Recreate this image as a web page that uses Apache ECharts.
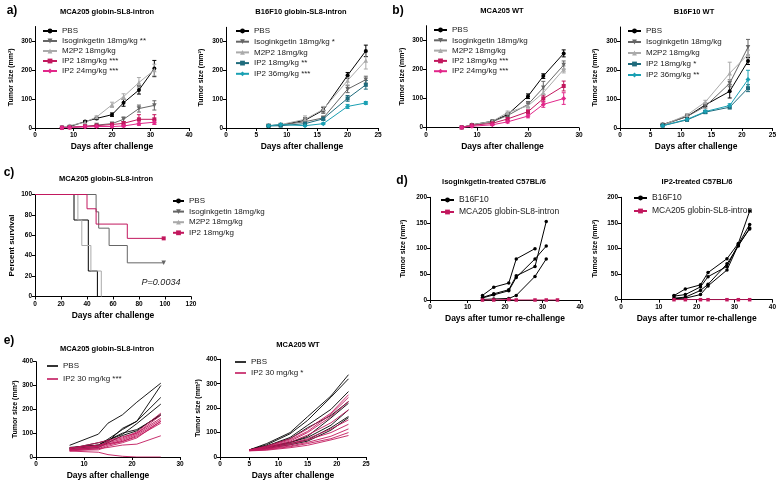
<!DOCTYPE html>
<html>
<head>
<meta charset="utf-8">
<script src="https://cdn.jsdelivr.net/npm/echarts@6/dist/echarts.min.js"></script>
<style>
  html, body { margin: 0; padding: 0; background: #fff; }
  #main { width: 779px; height: 481px; }
</style>
</head>
<body>
<div id="main"></div>
<script>
// a) MCA205 globin-SL8-intron
var a1Days = [7, 9, 13, 16, 20, 23, 27, 31];
var a1Pbs = [2, 5, 22, 33, 46, 87, 131, 205];
var a1PbsErr = [1, 2, 3, 4, 6, 12, 14, 28];
var a1Iso = [1, 3, 5, 10, 15, 30, 67, 78];
var a1IsoErr = [1, 1, 2, 3, 4, 8, 12, 16];
var a1M2p2 = [2, 8, 20, 38, 80, 108, 157, 200];
var a1M2p2Err = [1, 2, 3, 4, 9, 10, 17, 20];
var a1Ip18 = [1, 2, 6, 8, 12, 16, 30, 30];
var a1Ip18Err = [1, 1, 2, 3, 4, 6, 16, 16];
var a1Ip24 = [1, 2, 4, 5, 5, 7, 15, 20];
var a1Ip24Err = [1, 1, 1, 2, 2, 3, 6, 8];

// a) B16F10 globin-SL8-intron
var a2Days = [7, 9, 13, 16, 20, 23];
var a2Pbs = [8, 10, 27, 62, 183, 268];
var a2PbsErr = [2, 3, 8, 10, 10, 20];
var a2Iso = [8, 10, 22, 35, 135, 168];
var a2IsoErr = [2, 2, 5, 6, 12, 12];
var a2M2p2 = [8, 12, 30, 65, 165, 235];
var a2M2p2Err = [2, 3, 12, 10, 15, 30];
var a2Ip18 = [7, 8, 15, 32, 103, 150];
var a2Ip18Err = [2, 2, 4, 5, 10, 15];
var a2Ip36 = [8, 12, 8, 15, 75, 87];
var a2Ip36Err = [2, 3, 2, 3, 7, 5];

// b) MCA205 WT
var b1Days = [7, 9, 13, 16, 20, 23, 27];
var b1Pbs = [1, 10, 22, 45, 108, 177, 255];
var b1PbsErr = [1, 2, 3, 5, 8, 8, 12];
var b1Iso = [1, 8, 20, 42, 80, 137, 215];
var b1IsoErr = [1, 2, 3, 5, 10, 22, 14];
var b1M2p2 = [1, 10, 22, 52, 75, 120, 200];
var b1M2p2Err = [1, 2, 3, 5, 8, 12, 12];
var b1Ip18 = [1, 8, 15, 30, 55, 100, 143];
var b1Ip18Err = [1, 2, 3, 4, 6, 12, 17];
var b1Ip24 = [1, 5, 10, 20, 40, 80, 100];
var b1Ip24Err = [1, 2, 2, 4, 6, 10, 20];

// b) B16F10 WT
var b2Days = [7, 11, 14, 18, 21];
var b2Pbs = [12, 40, 80, 127, 232];
var b2PbsErr = [2, 4, 6, 23, 12];
var b2Iso = [10, 40, 75, 155, 280];
var b2IsoErr = [2, 4, 6, 12, 27];
var b2M2p2 = [10, 45, 90, 190, 255];
var b2M2p2Err = [2, 5, 6, 38, 15];
var b2Ip18 = [8, 28, 55, 72, 138];
var b2Ip18Err = [2, 3, 5, 6, 12];
var b2Ip36 = [8, 30, 57, 78, 168];
var b2Ip36Err = [2, 3, 5, 6, 32];

// c) survival, [day, percent] at each step
var cPbs = [[0, 100], [30, 75], [41, 25], [48, 0]];
var cIso = [[0, 100], [47, 83], [49, 67], [57, 50], [71, 33], [99, 33]];
var cM2p2 = [[0, 100], [33, 75], [36, 50], [43, 25], [51, 0]];
var cIp2 = [[0, 100], [40, 86], [47, 71], [71, 57], [99, 57]];

// d) re-challenge, one row per mouse
var d1Days = [14, 17, 21, 23, 28, 31];
var d1B16 = [
  [9, 25, 33, 80, 100, null],
  [5, 12, 20, 47, 65, 153],
  [4, 10, 18, 44, 80, 105],
  [1, 2, 3, 9, 46, 80]
];
var d1McaDays = [14, 17, 21, 23, 28, 31, 34];
var d1Mca = [0, 0, 1, 0, 0, 0, 0];

var d2Days = [14, 17, 21, 23, 28, 31, 34];
var d2B16 = [
  [8, 21, 29, 53, 80, 110, 173],
  [7, 10, 25, 45, 65, 108, 147],
  [3, 5, 18, 30, 70, 105, 140],
  [2, 3, 10, 27, 58, 107, 138]
];
var d2McaDays = [14, 17, 21, 23, 28, 31, 34];
var d2Mca = [0, 0, 0, 0, 0, 0, 0];

// e) individual mice
var e1Days = [7, 13, 15, 18, 21, 26];
var e1Pbs = [
  [49, 96, 142, 177, 230, 310],
  [40, 50, 75, 115, 150, 300],
  [35, 45, 65, 120, 150, 250],
  [38, 50, 70, 95, 140, 222],
  [30, 40, 60, 90, 110, 180],
  [35, 60, 70, 100, 115, 175]
];
var e1Ip2 = [
  [30, 45, 65, 80, 105, 184],
  [35, 50, 60, 75, 100, 163],
  [30, 40, 55, 70, 95, 156],
  [25, 35, 50, 65, 90, 149],
  [40, 45, 55, 65, 85, 142],
  [30, 35, 40, 50, 54, 89],
  [25, 20, 10, 3, 0, 0],
  [35, 60, 70, 85, 100, 175],
  [28, 30, 45, 60, 80, 150]
];

var e2Days = [5, 8, 12, 15, 19, 22];
var e2Pbs = [
  [29, 55, 100, 165, 250, 337],
  [29, 50, 95, 150, 245, 320],
  [29, 45, 80, 130, 195, 268],
  [29, 45, 75, 120, 170, 227],
  [29, 40, 60, 85, 160, 220],
  [29, 40, 60, 80, 130, 193],
  [29, 38, 55, 70, 120, 166],
  [29, 35, 50, 65, 110, 161]
];
var e2Ip2 = [
  [29, 45, 75, 115, 180, 255],
  [29, 42, 70, 105, 175, 244],
  [28, 40, 65, 100, 165, 227],
  [28, 38, 60, 90, 140, 193],
  [27, 35, 55, 75, 115, 152],
  [27, 33, 50, 70, 100, 134],
  [26, 32, 45, 60, 85, 115],
  [26, 30, 42, 55, 75, 100],
  [25, 28, 38, 48, 70, 88]
];

// tick labels
var ticks0to40 = [0, 10, 20, 30, 40];
var ticks0to30 = [0, 10, 20, 30];
var ticks0to25 = [0, 5, 10, 15, 20, 25];
var ticks0to120 = [0, 20, 40, 60, 80, 100, 120];
var ticksTumor300 = [0, 100, 200, 300];
var ticksTumor200 = [0, 50, 100, 150, 200];
var ticksTumor400 = [0, 100, 200, 300, 400];
var ticksSurvival = [0, 20, 40, 60, 80, 100];

var FONT = '"Liberation Sans", Arial, sans-serif';
var MAGENTA = '#c2185e';
var PINK = '#e2278a';
var TEAL = '#1f6b7c';
var CYAN = '#1aa0b3';

var sty = {
  pbs: { color: '#000', symbol: 'circle', size: 4 },
  iso: { color: '#666', symbol: 'triangle', size: 4.5, rotate: 180 },
  m2p2: { color: '#aaa', symbol: 'triangle', size: 4.5 },
  ip18: { color: MAGENTA, symbol: 'rect', size: 4 },
  ip24: { color: PINK, symbol: 'diamond', size: 5 },
  tl18: { color: TEAL, symbol: 'rect', size: 4 },
  tl36: { color: CYAN, symbol: 'diamond', size: 5 }
};

var option = {
  animation: false,
  backgroundColor: '#fff',
  textStyle: { fontFamily: FONT },
  grid: [], xAxis: [], yAxis: [], legend: [], series: [], graphic: []
};

function makeAxis(i, isX, a) {
  return {
    type: 'value', gridIndex: i, min: a.min, max: a.max,
    name: a.name, nameLocation: 'middle', nameGap: a.gap,
    nameTextStyle: { fontSize: a.size || (isX ? 8.5 : 7), fontWeight: 'bold', color: '#000', fontFamily: FONT },
    axisLine: { show: true, onZero: false, lineStyle: { color: '#000', width: 1 } },
    axisTick: { show: true, length: 3, customValues: a.ticks, lineStyle: { color: '#000', width: 1 } },
    axisLabel: { fontSize: 6.5, fontWeight: 'bold', color: '#000', margin: isX ? 4 : 3, customValues: a.ticks, fontFamily: FONT },
    splitLine: { show: false }
  };
}

function addPanel(box, x, y) {
  var i = option.grid.length;
  option.grid.push({ left: box[0], top: box[1], width: box[2], height: box[3] });
  option.xAxis.push(makeAxis(i, true, x));
  option.yAxis.push(makeAxis(i, false, y));
  return i;
}

function pairs(xs, ys) {
  return xs.map(function (x, k) { return [x, ys[k]]; });
}

function addLine(i, name, data, s, extra) {
  var ser = {
    type: 'line', name: name, xAxisIndex: i, yAxisIndex: i, data: data,
    symbol: s.symbol, symbolSize: s.size, symbolRotate: s.rotate || 0,
    showSymbol: true,
    lineStyle: { color: s.color, width: s.width || 1 },
    itemStyle: { color: s.color },
    z: 3
  };
  for (var k in extra) ser[k] = extra[k];
  option.series.push(ser);
}

function renderErr(params, api) {
  var x = api.value(0), y = api.value(1), e = api.value(2);
  var hi = api.coord([x, y + e]);
  var lo = api.coord([x, Math.max(y - e, 0)]);
  var st = { stroke: api.visual('color'), lineWidth: 1 };
  return {
    type: 'group', children: [
      { type: 'line', shape: { x1: hi[0], y1: hi[1], x2: lo[0], y2: lo[1] }, style: st },
      { type: 'line', shape: { x1: hi[0] - 2, y1: hi[1], x2: hi[0] + 2, y2: hi[1] }, style: st },
      { type: 'line', shape: { x1: lo[0] - 2, y1: lo[1], x2: lo[0] + 2, y2: lo[1] }, style: st }
    ]
  };
}

function addMeanSeries(i, name, xs, ys, es, s) {
  option.series.push({
    type: 'custom', coordinateSystem: 'cartesian2d', xAxisIndex: i, yAxisIndex: i,
    renderItem: renderErr, itemStyle: { color: s.color }, silent: true, z: 2,
    data: xs.map(function (x, k) { return [x, ys[k], es[k]]; })
  });
  addLine(i, name, pairs(xs, ys), s);
}

function addLegend(names, left, top, step, iconW, opts) {
  var lg = {
    data: names, left: left, top: top, orient: 'vertical', padding: 0,
    itemWidth: iconW, itemHeight: 6, itemGap: step - 10, selectedMode: false,
    textStyle: { fontSize: 8, lineHeight: 10, color: '#1a1a1a', fontFamily: FONT },
    formatter: function (n) { return n.split('|')[0]; }
  };
  for (var k in opts) lg[k] = opts[k];
  option.legend.push(lg);
}

function addText(text, x, y, font, extra) {
  var st = { text: text, x: x, y: y, textAlign: 'center', textVerticalAlign: 'middle', fill: '#000', font: font };
  for (var k in extra) st[k] = extra[k];
  option.graphic.push({ type: 'text', style: st, z: 10 });
}

var tumorY = function (gap) { return { min: 0, max: 350, ticks: ticksTumor300, name: 'Tumor size (mm²)', gap: gap }; };
var daysX = function (max, ticks) { return { min: 0, max: max, ticks: ticks, name: 'Days after challenge', gap: 14 }; };

// ---- panel a
var p = addPanel([35, 26.5, 154, 101.5], daysX(40, ticks0to40), tumorY(20));
addMeanSeries(p, 'PBS|a1', a1Days, a1Pbs, a1PbsErr, sty.pbs);
addMeanSeries(p, 'Isoginkgetin 18mg/kg **|a1', a1Days, a1Iso, a1IsoErr, sty.iso);
addMeanSeries(p, 'M2P2 18mg/kg|a1', a1Days, a1M2p2, a1M2p2Err, sty.m2p2);
addMeanSeries(p, 'IP2 18mg/kg ***|a1', a1Days, a1Ip18, a1Ip18Err, sty.ip18);
addMeanSeries(p, 'IP2 24mg/kg ***|a1', a1Days, a1Ip24, a1Ip24Err, sty.ip24);
addLegend(['PBS|a1', 'Isoginkgetin 18mg/kg **|a1', 'M2P2 18mg/kg|a1', 'IP2 18mg/kg ***|a1', 'IP2 24mg/kg ***|a1'], 42, 26, 10, 14);

p = addPanel([226, 27.3, 152, 100.7], daysX(25, ticks0to25), tumorY(21));
addMeanSeries(p, 'PBS|a2', a2Days, a2Pbs, a2PbsErr, sty.pbs);
addMeanSeries(p, 'Isoginkgetin 18mg/kg *|a2', a2Days, a2Iso, a2IsoErr, sty.iso);
addMeanSeries(p, 'M2P2 18mg/kg|a2', a2Days, a2M2p2, a2M2p2Err, sty.m2p2);
addMeanSeries(p, 'IP2 18mg/kg **|a2', a2Days, a2Ip18, a2Ip18Err, sty.tl18);
addMeanSeries(p, 'IP2 36mg/kg ***|a2', a2Days, a2Ip36, a2Ip36Err, sty.tl36);
addLegend(['PBS|a2', 'Isoginkgetin 18mg/kg *|a2', 'M2P2 18mg/kg|a2', 'IP2 18mg/kg **|a2', 'IP2 36mg/kg ***|a2'], 235, 26, 10.7, 13);

// ---- panel b
p = addPanel([426, 25.7, 153, 102], daysX(30, ticks0to30), tumorY(20));
addMeanSeries(p, 'PBS|b1', b1Days, b1Pbs, b1PbsErr, sty.pbs);
addMeanSeries(p, 'Isoginkgetin 18mg/kg|b1', b1Days, b1Iso, b1IsoErr, sty.iso);
addMeanSeries(p, 'M2P2 18mg/kg|b1', b1Days, b1M2p2, b1M2p2Err, sty.m2p2);
addMeanSeries(p, 'IP2 18mg/kg ***|b1', b1Days, b1Ip18, b1Ip18Err, sty.ip18);
addMeanSeries(p, 'IP2 24mg/kg ***|b1', b1Days, b1Ip24, b1Ip24Err, sty.ip24);
addLegend(['PBS|b1', 'Isoginkgetin 18mg/kg|b1', 'M2P2 18mg/kg|b1', 'IP2 18mg/kg ***|b1', 'IP2 24mg/kg ***|b1'], 433, 25, 10.3, 13);

p = addPanel([620, 27, 153, 101], daysX(25, ticks0to25), tumorY(21));
addMeanSeries(p, 'PBS|b2', b2Days, b2Pbs, b2PbsErr, sty.pbs);
addMeanSeries(p, 'Isoginkgetin 18mg/kg|b2', b2Days, b2Iso, b2IsoErr, sty.iso);
addMeanSeries(p, 'M2P2 18mg/kg|b2', b2Days, b2M2p2, b2M2p2Err, sty.m2p2);
addMeanSeries(p, 'IP2 18mg/kg *|b2', b2Days, b2Ip18, b2Ip18Err, sty.tl18);
addMeanSeries(p, 'IP2 36mg/kg **|b2', b2Days, b2Ip36, b2Ip36Err, sty.tl36);
addLegend(['PBS|b2', 'Isoginkgetin 18mg/kg|b2', 'M2P2 18mg/kg|b2', 'IP2 18mg/kg *|b2', 'IP2 36mg/kg **|b2'], 627, 26, 11, 13);

// ---- panel c
p = addPanel([35, 194.5, 156, 102],
  { min: 0, max: 120, ticks: ticks0to120, name: 'Days after challenge', gap: 15 },
  { min: 0, max: 100, ticks: ticksSurvival, name: 'Percent survival', gap: 19, size: 8 });
function survData(steps, endSymbol) {
  return steps.map(function (d, k) {
    var last = k === steps.length - 1;
    return (last && endSymbol) ? { value: d } : { value: d, symbol: 'none' };
  });
}
addLine(p, 'PBS|c', survData(cPbs, false), sty.pbs, { step: 'end' });
addLine(p, 'Isoginkgetin 18mg/kg|c', survData(cIso, true), sty.iso, { step: 'end' });
addLine(p, 'M2P2 18mg/kg|c', survData(cM2p2, false), sty.m2p2, { step: 'end' });
addLine(p, 'IP2 18mg/kg|c', survData(cIp2, true), sty.ip18, { step: 'end' });
addLegend(['PBS|c', 'Isoginkgetin 18mg/kg|c', 'M2P2 18mg/kg|c', 'IP2 18mg/kg|c'], 172, 196, 10.6, 11);

// ---- panel d
var reX = { min: 0, max: 40, ticks: ticks0to40, name: 'Days after tumor re-challenge', gap: 14 };
var dot = { color: '#000', symbol: 'circle', size: 3.5 };
var sq = { color: MAGENTA, symbol: 'rect', size: 3.5 };
p = addPanel([430, 197.3, 150, 102.7], reX, { min: 0, max: 200, ticks: ticksTumor200, name: 'Tumor size (mm²)', gap: 23 });
d1B16.forEach(function (row) { addLine(p, 'B16F10|d1', pairs(d1Days, row), dot); });
addLine(p, 'MCA205 globin-SL8-intron|d1', pairs(d1McaDays, d1Mca), sq);
addLegend(['B16F10|d1', 'MCA205 globin-SL8-intron|d1'], 440, 195, 12, 13, { textStyle: { fontSize: 8.5, lineHeight: 10, color: '#1a1a1a', fontFamily: FONT } });

p = addPanel([621, 197.3, 153, 102.4], reX, { min: 0, max: 200, ticks: ticksTumor200, name: 'Tumor size (mm²)', gap: 22 });
d2B16.forEach(function (row) { addLine(p, 'B16F10|d2', pairs(d2Days, row), dot); });
addLine(p, 'MCA205 globin-SL8-intron|d2', pairs(d2McaDays, d2Mca), sq);
addLegend(['B16F10|d2', 'MCA205 globin-SL8-intron|d2'], 633, 193, 13, 13, { textStyle: { fontSize: 8.5, lineHeight: 10, color: '#1a1a1a', fontFamily: FONT } });

// ---- panel e
var thinBlack = { color: '#000', symbol: 'none', size: 0, width: 0.9 };
var thinMag = { color: MAGENTA, symbol: 'none', size: 0, width: 0.9 };
var lineLegend = { icon: 'rect', itemHeight: 1.6 };
p = addPanel([36, 361.7, 144, 95.6], daysX(30, ticks0to30),
  { min: 0, max: 400, ticks: ticksTumor400, name: 'Tumor size (mm²)', gap: 17 });
e1Pbs.forEach(function (row) { addLine(p, 'PBS|e1', pairs(e1Days, row), thinBlack); });
e1Ip2.forEach(function (row) { addLine(p, 'IP2 30 mg/kg ***|e1', pairs(e1Days, row), thinMag); });
addLegend(['PBS|e1', 'IP2 30 mg/kg ***|e1'], 47, 361, 13, 11, lineLegend);

p = addPanel([220, 359.3, 146, 97.7], daysX(25, ticks0to25),
  { min: 0, max: 400, ticks: ticksTumor400, name: 'Tumor size (mm²)', gap: 18 });
e2Pbs.forEach(function (row) { addLine(p, 'PBS|e2', pairs(e2Days, row), thinBlack); });
e2Ip2.forEach(function (row) { addLine(p, 'IP2 30 mg/kg *|e2', pairs(e2Days, row), thinMag); });
addLegend(['PBS|e2', 'IP2 30 mg/kg *|e2'], 235, 357, 11, 11, lineLegend);

// ---- titles and panel letters
var TITLE = 'bold 7.5px ' + FONT;
var LETTER = 'bold 12px ' + FONT;
addText('MCA205 globin-SL8-intron', 107, 12, TITLE);
addText('B16F10 globin-SL8-intron', 301, 12, TITLE);
addText('MCA205 WT', 502, 11, TITLE);
addText('B16F10 WT', 694, 12, TITLE);
addText('MCA205 globin-SL8-intron', 106, 179, TITLE);
addText('Isoginkgetin-treated C57BL/6', 494, 182, TITLE);
addText('IP2-treated C57BL/6', 697, 182, TITLE);
addText('MCA205 globin-SL8-intron', 107, 349, TITLE);
addText('MCA205 WT', 298, 345, TITLE);
addText('a)', 12, 11, LETTER);
addText('b)', 398, 11, LETTER);
addText('c)', 9, 173, LETTER);
addText('d)', 402, 181, LETTER);
addText('e)', 9, 341, LETTER);
addText('P=0.0034', 161, 282, 'italic 9px ' + FONT, { fill: '#222' });

var chart = echarts.init(document.getElementById('main'));
chart.setOption(option);
</script>
</body>
</html>
